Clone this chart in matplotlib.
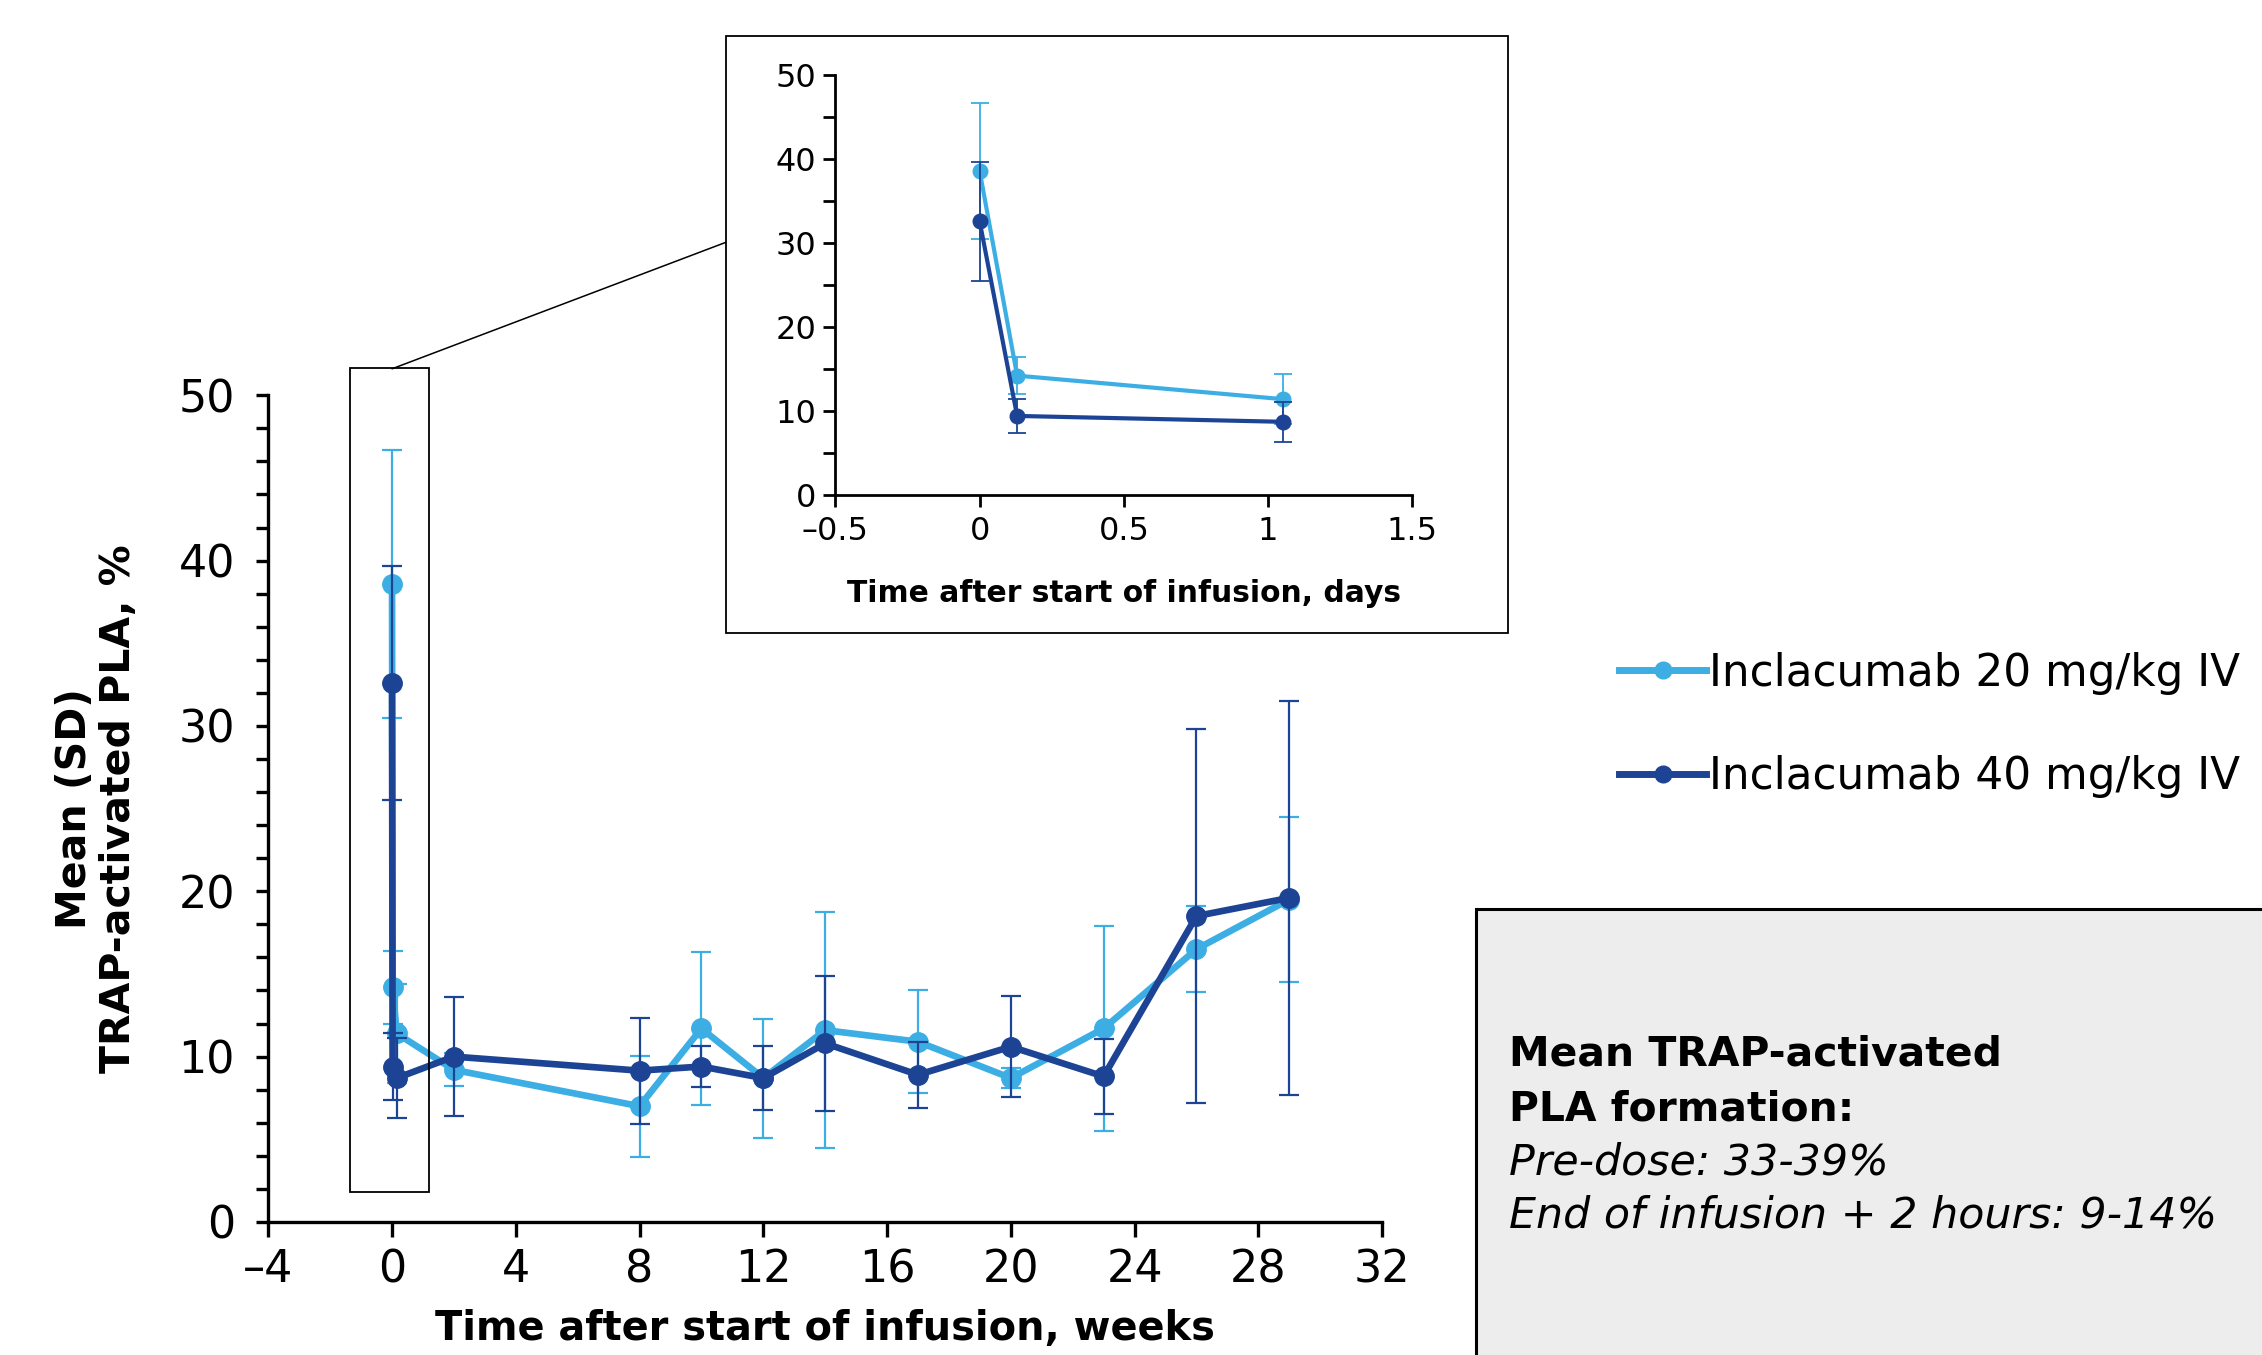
import matplotlib
matplotlib.use('Agg')
import matplotlib.pyplot as plt
from matplotlib.patches import Rectangle, ConnectionPatch
import numpy as np

# ---- data ----
days_early = [0, 0.13, 1.05]          # first visits, days after start of infusion
weeks_late = [2, 8, 10, 12, 14, 17, 20, 23, 26, 29]

mean20_early = [38.6, 14.2, 11.4]
sd20_early = [8.1, 2.2, 3.0]
mean40_early = [32.6, 9.4, 8.7]
sd40_early = [7.1, 2.0, 2.4]

mean20_late = [9.2, 7.0, 11.7, 8.7, 11.6, 10.9, 8.7, 11.7, 16.5, 19.5]
sd20_late = [1.0, 3.05, 4.6, 3.6, 7.15, 3.1, 0.6, 6.2, 2.6, 5.0]
mean40_late = [10.0, 9.15, 9.4, 8.7, 10.8, 8.9, 10.6, 8.8, 18.5, 19.6]
sd40_late = [3.6, 3.2, 1.25, 1.95, 4.1, 2.0, 3.05, 2.25, 11.3, 11.9]

week_ticks = list(range(-4, 33, 4))
week_ticklabels = ['\u20134'] + [str(t) for t in week_ticks[1:]]
day_ticks = [-0.5, 0, 0.5, 1, 1.5]
day_ticklabels = ['\u20130.5', '0', '0.5', '1', '1.5']

labels = ['Inclacumab 20 mg/kg IV', 'Inclacumab 40 mg/kg IV']
LIGHT = '#3DAEE3'
DARK = '#1D4494'

REG = ['DejaVu Sans']
BOLD = ['DejaVu Sans']

fig = plt.figure(figsize=(22.62, 13.55), dpi=100)

# ---- main axes (weeks) ----
ax = fig.add_axes([0.1186, 0.0982, 0.4924, 0.6101])
x_main = np.concatenate([np.array(days_early) / 7.0, weeks_late])
series = [
    (mean20_early + mean20_late, sd20_early + sd20_late, LIGHT),
    (mean40_early + mean40_late, sd40_early + sd40_late, DARK),
]
handles = []
for i, (m, s, c) in enumerate(series):
    cont = ax.errorbar(x_main, m, yerr=s, color=c, lw=4.8, marker='o', ms=14,
                       elinewidth=1.6, capsize=7, capthick=1.6, zorder=3 + i)
    handles.append(cont[0])

ax.set_xlim(-4, 32)
ax.set_ylim(0, 50)
ax.set_xticks(week_ticks)
ax.set_xticklabels(week_ticklabels)
ax.set_yticks(range(0, 51, 10))
ax.set_yticks(range(0, 51, 2), minor=True)
for side in ['top', 'right']:
    ax.spines[side].set_visible(False)
for side in ['left', 'bottom']:
    ax.spines[side].set_linewidth(2.4)
ax.tick_params(axis='y', which='both', direction='out', length=9, width=2.4)
ax.tick_params(axis='x', which='both', direction='out', length=11, width=2.4)
ax.tick_params(axis='y', which='major', pad=15, labelsize=32)
ax.tick_params(axis='x', which='major', pad=8, labelsize=32)
for lab in ax.get_xticklabels() + ax.get_yticklabels():
    lab.set_family(REG)
ax.set_xlabel('Time after start of infusion, weeks', fontsize=28.7, fontweight='bold',
              family=BOLD, labelpad=13)
ax.set_ylabel('Mean (SD)\nTRAP-activated PLA, %', fontsize=29.5, fontweight='bold',
              family=BOLD, labelpad=28, linespacing=1.15)

# zoom box around the first day
zoom_box = Rectangle((-1.36, 1.84), 2.57, 49.8, fill=False, edgecolor='black',
                     lw=1.3, clip_on=False, zorder=6)
ax.add_patch(zoom_box)

# ---- inset axes (days) ----
ins = fig.add_axes([0.3693, 0.6348, 0.2551, 0.3098])
for i, (m, s, c) in enumerate([(mean20_early, sd20_early, LIGHT),
                               (mean40_early, sd40_early, DARK)]):
    ins.errorbar(days_early, m, yerr=s, color=c, lw=3.0, marker='o', ms=10.5,
                 elinewidth=1.3, capsize=6.5, capthick=1.3, zorder=3 + i)
ins.set_xlim(-0.5, 1.5)
ins.set_ylim(0, 50)
ins.set_xticks(day_ticks)
ins.set_xticklabels(day_ticklabels)
ins.set_yticks(range(0, 51, 10))
ins.set_yticks(range(0, 51, 5), minor=True)
for side in ['top', 'right']:
    ins.spines[side].set_visible(False)
for side in ['left', 'bottom']:
    ins.spines[side].set_linewidth(2.0)
ins.tick_params(axis='both', which='both', direction='out', length=8.5, width=2.0)
ins.tick_params(axis='y', which='major', pad=5, labelsize=23)
ins.tick_params(axis='x', which='major', pad=7, labelsize=23)
for lab in ins.get_xticklabels() + ins.get_yticklabels():
    lab.set_family(REG)
ins.set_xlabel('Time after start of infusion, days', fontsize=21.4, fontweight='bold',
               family=BOLD, labelpad=23)

# inset frame and connector
fig.add_artist(Rectangle((0.3208, 0.5326), 0.3457, 0.4408, transform=fig.transFigure,
                         fill=False, edgecolor='black', lw=1.3))
con = ConnectionPatch(xyA=(0, 51.6), coordsA=ax.transData,
                      xyB=(0.3208, 0.8211), coordsB=fig.transFigure,
                      color='black', lw=1.1)
fig.add_artist(con)

# ---- legend ----
leg = ax.legend(handles, labels, loc='center left', bbox_to_anchor=(0.7157, 0.465),
                bbox_transform=fig.transFigure, frameon=False,
                handlelength=2.0, handletextpad=0.05, borderpad=0, borderaxespad=0,
                labelspacing=1.38, prop={'family': REG, 'size': 31.5})
for line in leg.get_lines():
    line.set_linewidth(5)
    line.set_markersize(12)

# ---- summary box ----
fig.add_artist(Rectangle((0.6525, -0.05), 0.4, 0.3792, transform=fig.transFigure,
                         facecolor='#EDEDED', edgecolor='black', lw=2.2))
fig.text(0.667, 0.2218, 'Mean TRAP-activated', fontsize=29.4, fontweight='bold',
         family=BOLD, va='center', ha='left')
fig.text(0.667, 0.1814, 'PLA formation:', fontsize=29.4, fontweight='bold',
         family=BOLD, va='center', ha='left')
fig.text(0.667, 0.1420, 'Pre-dose: 33-39%', fontsize=30.8, style='italic',
         family=REG, va='center', ha='left')
fig.text(0.667, 0.1026, 'End of infusion + 2 hours: 9-14%', fontsize=30.8, style='italic',
         family=REG, va='center', ha='left')

fig.savefig('out.png', dpi=100, facecolor='white')
